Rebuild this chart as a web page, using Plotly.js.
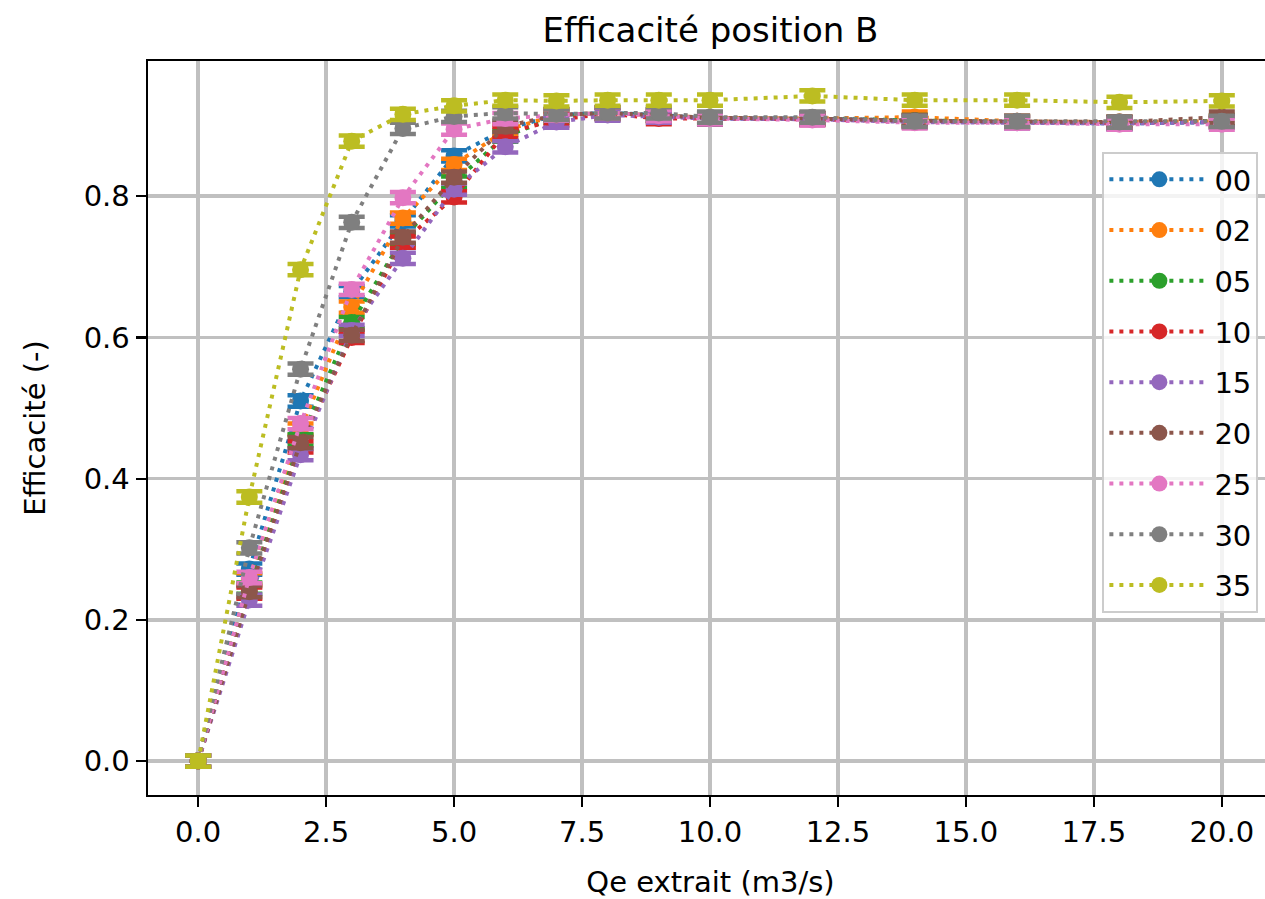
<!DOCTYPE html>
<html>
<head>
<meta charset="utf-8">
<script src="https://cdn.plot.ly/plotly-3.0.1.min.js"></script>
<style>html,body{margin:0;padding:0;overflow:hidden;background:#fff;}</style>
</head>
<body>
<div id="chart"></div>
<script>
const xValues = [0, 1, 2, 3, 4, 5, 6, 7, 8, 9, 10, 12, 14, 16, 18, 20];
const seriesNames = ["00", "02", "05", "10", "15", "20", "25", "30", "35"];
const s00 = [0, 0.272, 0.510, 0.665, 0.765, 0.857, 0.895, 0.915, 0.918, 0.915, 0.910, 0.910, 0.907, 0.905, 0.903, 0.905];
const s02 = [0, 0.258, 0.470, 0.643, 0.769, 0.845, 0.893, 0.915, 0.918, 0.915, 0.911, 0.910, 0.912, 0.906, 0.905, 0.906];
const s05 = [0, 0.245, 0.455, 0.621, 0.740, 0.820, 0.885, 0.912, 0.917, 0.914, 0.910, 0.910, 0.907, 0.905, 0.904, 0.907];
const s10 = [0, 0.238, 0.445, 0.600, 0.735, 0.799, 0.890, 0.908, 0.917, 0.910, 0.910, 0.909, 0.906, 0.905, 0.904, 0.906];
const s15 = [0, 0.228, 0.434, 0.610, 0.712, 0.810, 0.870, 0.905, 0.915, 0.912, 0.910, 0.909, 0.905, 0.904, 0.903, 0.905];
const s20 = [0, 0.240, 0.451, 0.603, 0.742, 0.827, 0.899, 0.915, 0.918, 0.915, 0.911, 0.910, 0.907, 0.906, 0.905, 0.912];
const s25 = [0, 0.260, 0.478, 0.668, 0.798, 0.895, 0.910, 0.915, 0.918, 0.914, 0.910, 0.908, 0.904, 0.904, 0.902, 0.902];
const s30 = [0, 0.302, 0.555, 0.763, 0.896, 0.913, 0.918, 0.916, 0.918, 0.918, 0.912, 0.912, 0.906, 0.906, 0.905, 0.906];
const s35 = [0, 0.374, 0.696, 0.878, 0.916, 0.928, 0.936, 0.935, 0.936, 0.936, 0.936, 0.942, 0.936, 0.936, 0.933, 0.935];
const errValue = 0.008;
const xTickValues = [0, 2.5, 5, 7.5, 10, 12.5, 15, 17.5, 20];
const yTickValues = [0, 0.2, 0.4, 0.6, 0.8];

const allSeries = [s00, s02, s05, s10, s15, s20, s25, s30, s35];
const colors = ["#1f77b4", "#ff7f0e", "#2ca02c", "#d62728", "#9467bd", "#8c564b", "#e377c2", "#7f7f7f", "#bcbd22"];
const FONT = "DejaVu Sans, Liberation Sans, sans-serif";

const traces = allSeries.map((ys, i) => ({
  type: "scatter",
  mode: "lines+markers",
  name: seriesNames[i],
  legendgroup: "g" + i,
  x: xValues,
  y: ys,
  line: {color: colors[i], width: 4, dash: "4px,6px"},
  marker: {color: colors[i], size: 17},
  error_y: {type: "constant", value: errValue, color: colors[i], thickness: 4.5, width: 13, visible: true}
}));

const layout = {
  width: 1280,
  height: 899,
  margin: {l: 148, r: 7, t: 61, b: 104},
  paper_bgcolor: "#fff",
  plot_bgcolor: "#fff",
  font: {family: FONT, size: 29, color: "#000"},
  title: {text: "Efficacité position B", font: {family: FONT, size: 34, color: "#000"}, x: 0.5, xref: "paper", y: 0.967, yanchor: "middle"},
  xaxis: {
    range: [-0.98, 21],
    tickvals: xTickValues,
    tickformat: ".1f",
    ticks: "outside", ticklen: 10, tickwidth: 2.2, tickcolor: "#000",
    showgrid: true, gridcolor: "#c0c0c0", gridwidth: 3.5,
    zeroline: false,
    showline: true, linecolor: "#000", linewidth: 2.4, mirror: true,
    title: {text: "Qe extrait (m3/s)", font: {family: FONT, size: 29, color: "#000"}, standoff: 24},
    tickfont: {family: FONT, size: 29, color: "#000"}
  },
  yaxis: {
    range: [-0.048, 0.9915],
    tickvals: yTickValues,
    tickformat: ".1f",
    ticks: "outside", ticklen: 10, tickwidth: 2.2, tickcolor: "#000",
    showgrid: true, gridcolor: "#c0c0c0", gridwidth: 3.5,
    zeroline: false,
    showline: true, linecolor: "#000", linewidth: 2.4, mirror: true,
    title: {text: "Efficacité (-)", font: {family: FONT, size: 29, color: "#000"}, standoff: 30},
    tickfont: {family: FONT, size: 29, color: "#000"}
  },
  legend: {
    x: 0.987, xanchor: "right", xref: "paper",
    y: 0.876, yanchor: "top", yref: "paper",
    bgcolor: "rgba(255,255,255,0.8)",
    bordercolor: "#cccccc", borderwidth: 2,
    font: {family: FONT, size: 29, color: "#000"},
    tracegroupgap: 10,
    itemwidth: 100
  },
  showlegend: true
};

Plotly.newPlot("chart", traces, layout, {displayModeBar: false, staticPlot: true});
</script>
</body>
</html>
